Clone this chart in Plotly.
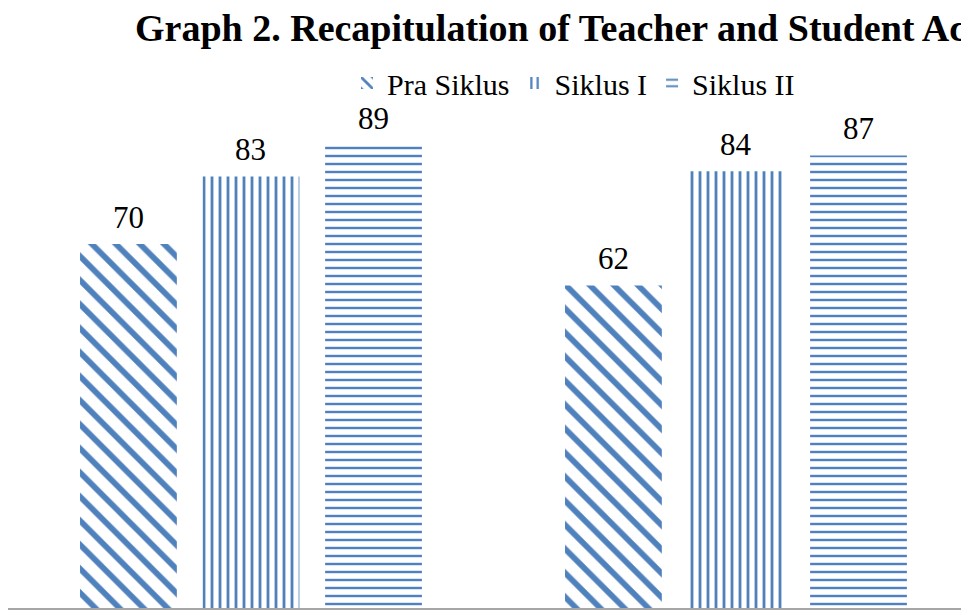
import plotly.graph_objects as go

categories = ["Teacher Activities", "Student Activities"]
series_names = ["Pra Siklus", "Siklus I", "Siklus II"]
pra_siklus = [70, 62]
siklus_1 = [83, 84]
siklus_2 = [89, 87]
title_text = "Graph 2. Recapitulation of Teacher and Student Ac"

values = [pra_siklus, siklus_1, siklus_2]
shapes = ["\\", "|", "-"]
sizes = [17, 8, 8]
solid = [0.34, 0.35, 0.3]
blue = "#4F81BD"
serif = "Liberation Serif, Times New Roman, serif"

fig = go.Figure()
for name, vals, sh, sz, so in zip(series_names, values, shapes, sizes, solid):
    fig.add_trace(go.Bar(
        x=categories, y=vals, name=name,
        marker=dict(color="white", line=dict(width=0),
                    pattern=dict(shape=sh, size=sz, solidity=so, fgopacity=1,
                                 fgcolor=blue, bgcolor="white", fillmode="overlay")),
    ))

offsets = [-122.5, 0, 122.5]
for vals, dx in zip(values, offsets):
    for cat, v in zip(categories, vals):
        fig.add_annotation(x=cat, y=v, text=str(v), showarrow=False,
                           xshift=dx, yshift=27, yanchor="middle",
                           font=dict(family=serif, size=31, color="#000"))

fig.update_layout(
    width=969, height=615,
    font=dict(family=serif, color="#000"),
    margin=dict(l=0, r=0, t=80, b=15, autoexpand=False),
    paper_bgcolor="white", plot_bgcolor="white",
    barmode="group", bargap=0.242, bargroupgap=0.21,
    title=dict(text=title_text, x=127/969, xanchor="left", y=1 - 20/615, yanchor="middle",
               font=dict(family=serif, size=38, color="#000", weight="bold")),
    legend=dict(orientation="h", x=339/969, xref="container", xanchor="left",
                y=1 - 75/615, yref="container", yanchor="middle",
                font=dict(family=serif, size=30, color="#000"),
                itemwidth=30, bgcolor="rgba(0,0,0,0)"),
    showlegend=True,
)
fig.update_xaxes(range=[-0.501, 1.497], showticklabels=False, ticks="",
                 showline=True, linecolor="#A6A6A6", linewidth=1.5, showgrid=False, zeroline=False)
fig.update_yaxes(range=[0, 100], visible=False, showgrid=False)

fig.write_html("out.html")
